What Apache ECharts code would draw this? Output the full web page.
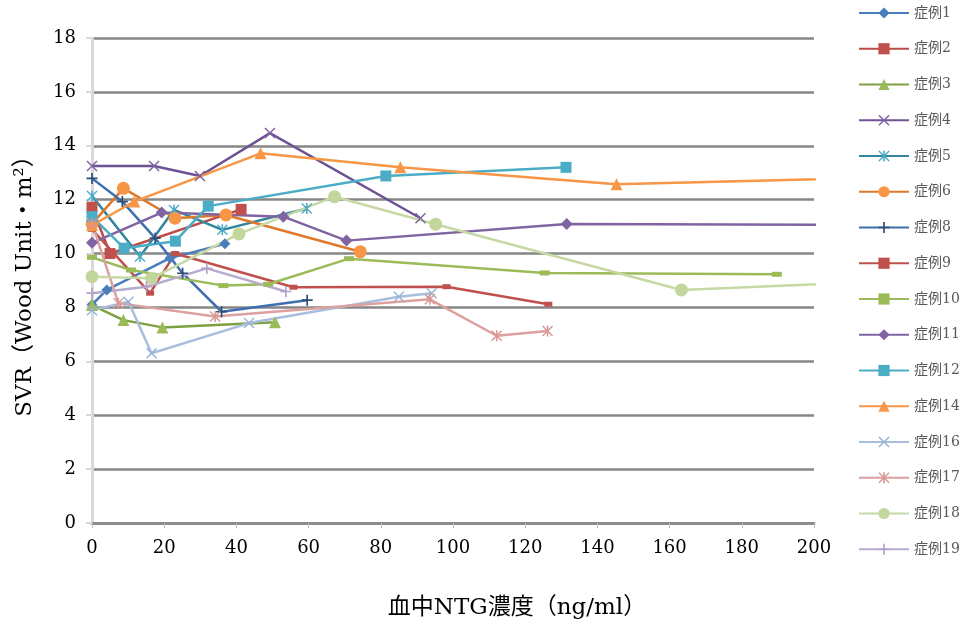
<!DOCTYPE html>
<html>
<head>
<meta charset="utf-8">
<script src="https://cdn.jsdelivr.net/npm/echarts@6/dist/echarts.min.js"></script>
<style>
  html, body { margin: 0; padding: 0; background: #fff; }
  #chart { width: 964px; height: 629px; }
</style>
</head>
<body>
<div id="chart"></div>
<script>
// NTG blood concentration (ng/ml) and SVR (Wood Unit·m²) per case
const case1X = [0, 4.1, 21.6, 36.8];
const case1Y = [8.1, 8.65, 9.83, 10.36];
const case2X = [0, 5.0, 41.3];
const case2Y = [11.72, 10.0, 11.64];
const case3X = [0, 8.7, 19.5, 50.7];
const case3Y = [8.09, 7.53, 7.26, 7.45];
const case4X = [0, 17.2, 29.9, 49.3, 91.0];
const case4Y = [13.25, 13.25, 12.88, 14.47, 11.31];
const case5X = [0, 13.3, 22.7, 36.1, 59.5];
const case5Y = [12.14, 9.89, 11.62, 10.88, 11.67];
const case6X = [0, 8.7, 23.0, 37.1, 74.3];
const case6Y = [11.1, 12.42, 11.31, 11.43, 10.07];
const case8X = [0, 8.4, 17.5, 25.1, 35.9, 59.6];
const case8Y = [12.79, 11.93, 10.57, 9.27, 7.84, 8.27];
const case9X = [0, 16.1, 23.0, 55.8, 98.2, 126.4];
const case9Y = [10.9, 8.53, 10.0, 8.75, 8.77, 8.12];
const case10X = [0, 10.8, 36.4, 48.8, 71.2, 125.4, 189.7];
const case10Y = [9.86, 9.39, 8.81, 8.86, 9.81, 9.28, 9.23];
const case11X = [0, 19.3, 53.0, 70.5, 131.5, 230];
const case11Y = [10.4, 11.52, 11.37, 10.48, 11.1, 11.05];
const case12X = [0, 8.9, 23.1, 32.2, 81.4, 131.3];
const case12Y = [11.37, 10.2, 10.46, 11.76, 12.88, 13.2];
const case14X = [0, 11.7, 46.7, 85.4, 145.3, 230];
const case14Y = [11.05, 11.93, 13.72, 13.2, 12.57, 12.86];
const case16X = [0, 10.1, 16.5, 43.5, 85.0, 94.1];
const case16Y = [7.9, 8.21, 6.3, 7.42, 8.4, 8.53];
const case17X = [0, 7.3, 34.1, 93.6, 112.1, 126.2];
const case17Y = [11.12, 8.16, 7.66, 8.3, 6.95, 7.13];
const case18X = [0, 16.5, 40.7, 67.2, 95.2, 163.3, 230];
const case18Y = [9.14, 9.08, 10.73, 12.11, 11.09, 8.65, 9.03];
const case19X = [0, 15.1, 31.8, 53.7];
const case19Y = [8.53, 8.77, 9.45, 8.59];

const xTicks = { min: 0, max: 200, step: 20 };
const yTicks = { min: 0, max: 18, step: 2 };

// marker shapes
const SYM_X = 'path://M0.9,0 L5,4.1 L9.1,0 L10,0.9 L5.9,5 L10,9.1 L9.1,10 L5,5.9 L0.9,10 L0,9.1 L4.1,5 L0,0.9 Z';
const SYM_PLUS = 'path://M4.25,0 H5.75 V4.25 H10 V5.75 H5.75 V10 H4.25 V5.75 H0 V4.25 H4.25 Z';
const SYM_STAR = 'path://M0.9,0 L5,4.1 L9.1,0 L10,0.9 L5.9,5 L10,9.1 L9.1,10 L5,5.9 L0.9,10 L0,9.1 L4.1,5 L0,0.9 Z M4.3,0 H5.7 V10 H4.3 Z';

const cases = [
  { name: '症例1', x: case1X, y: case1Y, line: '#4A7EBB', mark: '#4A7EBB', symbol: 'diamond', size: 11 },
  { name: '症例2', x: case2X, y: case2Y, line: '#BE4B48', mark: '#C0504D', symbol: 'rect', size: 11 },
  { name: '症例3', x: case3X, y: case3Y, line: '#7EA13F', mark: '#9BBB59', symbol: 'triangle', size: 12 },
  { name: '症例4', x: case4X, y: case4Y, line: '#6E5293', mark: '#7D60A0', symbol: SYM_X, size: 11 },
  { name: '症例5', x: case5X, y: case5Y, line: '#31859C', mark: '#4BACC6', symbol: SYM_STAR, size: 11 },
  { name: '症例6', x: case6X, y: case6Y, line: '#E0782A', mark: '#F79646', symbol: 'circle', size: 13 },
  { name: '症例8', x: case8X, y: case8Y, line: '#3F6FAE', mark: '#2C4D75', symbol: SYM_PLUS, size: 11 },
  { name: '症例9', x: case9X, y: case9Y, line: '#C0504D', mark: '#C0504D', symbol: 'rect', size: [8, 5] },
  { name: '症例10', x: case10X, y: case10Y, line: '#9BBB59', mark: '#9BBB59', symbol: 'rect', size: [10, 5] },
  { name: '症例11', x: case11X, y: case11Y, line: '#8064A2', mark: '#8064A2', symbol: 'diamond', size: 12 },
  { name: '症例12', x: case12X, y: case12Y, line: '#4BACC6', mark: '#4BACC6', symbol: 'rect', size: 11 },
  { name: '症例14', x: case14X, y: case14Y, line: '#F79646', mark: '#F79646', symbol: 'triangle', size: 12 },
  { name: '症例16', x: case16X, y: case16Y, line: '#A7BEDE', mark: '#95B3D7', symbol: SYM_X, size: 11 },
  { name: '症例17', x: case17X, y: case17Y, line: '#DCA09F', mark: '#D99694', symbol: SYM_STAR, size: 11 },
  { name: '症例18', x: case18X, y: case18Y, line: '#C6D9A5', mark: '#C3D69B', symbol: 'circle', size: 13 },
  { name: '症例19', x: case19X, y: case19Y, line: '#B9ABCF', mark: '#B3A2C7', symbol: SYM_PLUS, size: 11 }
];

const serifFont = '"DejaVu Serif", "Liberation Serif", "Noto Sans CJK JP", serif';

const chart = echarts.init(document.getElementById('chart'), null, { renderer: 'canvas' });

chart.setOption({
  animation: false,
  backgroundColor: '#ffffff',
  grid: { left: 92, right: 150, top: 38, bottom: 106, containLabel: false },
  legend: {
    orient: 'vertical',
    left: 853,
    top: 1,
    itemWidth: 50,
    itemHeight: 14,
    itemGap: 21.75,
    itemStyle: { borderWidth: 0 },
    textStyle: { color: '#595959', fontSize: 14, fontFamily: serifFont },
    data: cases.map(c => c.name)
  },
  xAxis: {
    type: 'value',
    min: xTicks.min,
    max: xTicks.max,
    interval: xTicks.step,
    name: '血中NTG濃度（ng/ml）',
    nameLocation: 'middle',
    nameGap: 74,
    nameTextStyle: { color: '#000', fontSize: 23, fontFamily: serifFont, padding: [0, 0, 0, 128] },
    axisLine: { show: true, onZero: false, lineStyle: { color: '#8C8C8C', width: 3 } },
    axisTick: { show: true, length: 5, lineStyle: { color: '#BFBFBF', width: 1 } },
    axisLabel: { color: '#000', fontSize: 18, margin: 16, fontFamily: serifFont },
    splitLine: { show: false }
  },
  yAxis: {
    type: 'value',
    min: yTicks.min,
    max: yTicks.max,
    interval: yTicks.step,
    name: 'SVR（Wood Unit・m²）',
    nameLocation: 'middle',
    nameGap: 55,
    nameRotate: 90,
    nameTextStyle: { color: '#000', fontSize: 23, fontFamily: serifFont },
    axisLine: { show: true, onZero: false, lineStyle: { color: '#D9D9D9', width: 3 } },
    axisTick: { show: true, length: 6, lineStyle: { color: '#D9D9D9', width: 2 } },
    axisLabel: { color: '#000', fontSize: 18, margin: 16, fontFamily: serifFont },
    splitLine: { show: true, lineStyle: { color: '#868686', width: 2.5 } }
  },
  series: cases.map(c => ({
    name: c.name,
    type: 'line',
    clip: true,
    data: c.x.map((v, i) => [v, c.y[i]]),
    symbol: c.symbol,
    symbolSize: c.size,
    showAllSymbol: true,
    lineStyle: { color: c.line, width: 2.5 },
    itemStyle: { color: c.mark, borderWidth: 0 },
    emphasis: { disabled: true }
  }))
});
</script>
</body>
</html>
